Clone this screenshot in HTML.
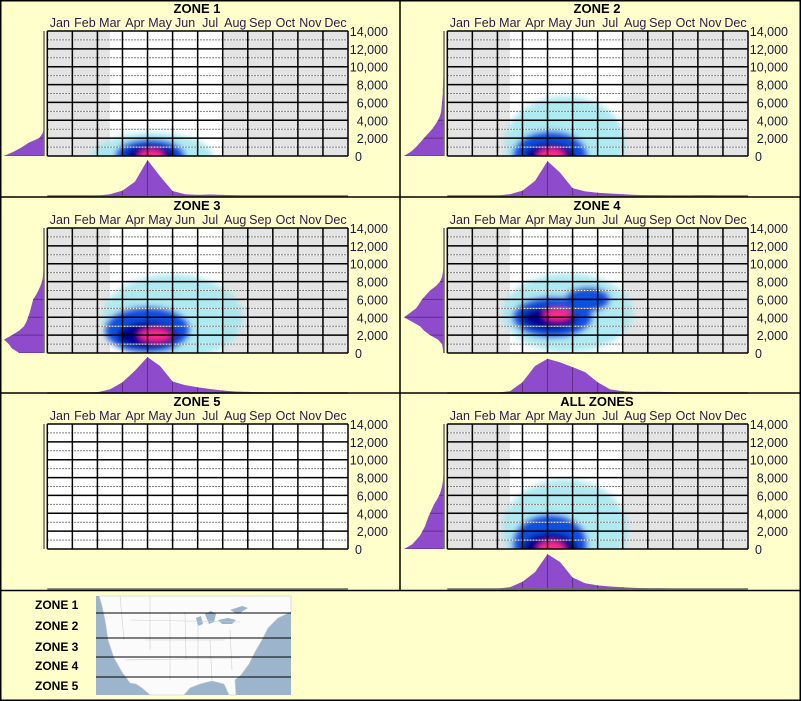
<!DOCTYPE html>
<html><head><meta charset="utf-8">
<style>
html,body{margin:0;padding:0;background:#ffffcc;}
svg{display:block;font-family:"Liberation Sans",sans-serif;}
</style></head>
<body>
<svg id="chart" width="801" height="701" viewBox="0 0 801 701" xmlns="http://www.w3.org/2000/svg">
<defs>
<filter id="blur" x="-50%" y="-50%" width="200%" height="200%"><feGaussianBlur stdDeviation="3"/></filter>
</defs>
<rect x="0" y="0" width="801" height="701" fill="#ffffcc"/>
<g id="panels"></g>
<g>
<text x="35" y="609" font-size="12" font-weight="bold">ZONE 1</text>
<text x="35" y="630" font-size="12" font-weight="bold">ZONE 2</text>
<text x="35" y="651" font-size="12" font-weight="bold">ZONE 3</text>
<text x="35" y="670" font-size="12" font-weight="bold">ZONE 4</text>
<text x="35" y="690" font-size="12" font-weight="bold">ZONE 5</text>
<g>
<rect x="96" y="596" width="195" height="99" fill="#9db5cc"/>
<polygon fill="#fbfbfb" stroke="#c8c8c8" stroke-width="0.6" points="99,596 291,596 291,612 278,618 268,628 262,640 255,652 249,664 241,675 235,680 236,695 229,695 224,684 212,681 200,684 190,688 184,695 150,695 142,688 136,684 130,683 122,672 114,658 108,640 105,620 102,606"/>
<path d="M205,614 l6,-3 l5,3 l-2,8 l-5,2 z M218,620 l10,-2 l8,2 l-4,4 l-10,0 z M196,618 l5,-2 l2,8 l-5,2z M230,610 l12,-4 l6,2 l-10,6z" fill="#9db5cc"/>
<path d="M120,596 L124,640 M150,596 L150,650 M170,612 L170,680 M185,612 L186,660 M198,625 L198,680 M145,640 L225,640 M130,620 L240,622 M125,660 L240,658 M210,640 L212,680 M230,630 L232,670" stroke="#d0d0d0" stroke-width="0.6" fill="none"/>
<line x1="96" y1="613" x2="291" y2="613" stroke="#000" stroke-width="1"/>
<line x1="96" y1="638" x2="291" y2="638" stroke="#000" stroke-width="1"/>
<line x1="96" y1="657" x2="291" y2="657" stroke="#000" stroke-width="1"/>
<line x1="96" y1="677" x2="291" y2="677" stroke="#000" stroke-width="1"/>
</g>
</g>
<g>
<line x1="400" y1="0" x2="400" y2="590" stroke="#000" stroke-width="1.5"/>
<line x1="0" y1="197" x2="801" y2="197" stroke="#000" stroke-width="1.5"/>
<line x1="0" y1="393" x2="801" y2="393" stroke="#000" stroke-width="1.5"/>
<line x1="0" y1="590.5" x2="801" y2="590.5" stroke="#000" stroke-width="1.5"/>
<rect x="0.75" y="0.75" width="799.5" height="699.5" fill="none" stroke="#000" stroke-width="1.5"/>
</g>
</svg>
<script>
const months = ["Jan","Feb","Mar","Apr","May","Jun","Jul","Aug","Sep","Oct","Nov","Dec"];
const yTicks = [0,2000,4000,6000,8000,10000,12000,14000];
const yTickLabels = ["0","2,000","4,000","6,000","8,000","10,000","12,000","14,000"];
const zoneTitles = ["ZONE 1","ZONE 2","ZONE 3","ZONE 4","ZONE 5","ALL ZONES"];
// seasonal density, at month positions 0,0.5,...,12 (25 points)
const seasonZone1 = [0,0,0,0,0.01,0.05,0.15,0.4,1.0,0.55,0.14,0.05,0.03,0.04,0.03,0.02,0.01,0.01,0,0,0,0,0,0,0];
const seasonZone2 = [0,0,0,0,0.01,0.05,0.15,0.42,0.97,0.65,0.22,0.13,0.09,0.07,0.05,0.03,0.02,0.02,0.01,0.01,0.02,0.02,0.01,0,0];
const seasonZone3 = [0,0,0,0.01,0.02,0.1,0.3,0.62,1.0,0.75,0.32,0.22,0.16,0.11,0.07,0.04,0.03,0.02,0.01,0.01,0.02,0.01,0,0,0];
const seasonZone4 = [0,0,0,0,0.01,0.05,0.3,0.75,0.95,0.85,0.72,0.58,0.3,0.1,0.05,0.03,0.03,0.03,0.02,0.01,0,0,0,0,0];
const seasonZone5 = [0,0,0,0,0,0,0,0,0,0,0,0,0,0,0,0,0,0,0,0,0,0,0,0,0];
const seasonAll = [0,0,0,0,0.01,0.05,0.2,0.47,0.97,0.75,0.32,0.16,0.1,0.07,0.05,0.03,0.02,0.02,0.01,0.01,0.01,0.01,0,0,0];
// altitude density, at 0,500,...,14000 ft (29 points)
const altZone1 = [1.0,0.75,0.55,0.38,0.12,0.04,0.01,0,0,0,0,0,0,0,0,0,0,0,0,0,0,0,0,0,0,0,0,0,0];
const altZone2 = [1.0,0.82,0.7,0.6,0.5,0.4,0.3,0.22,0.15,0.1,0.07,0.06,0.05,0.04,0.03,0.03,0.02,0.02,0.01,0.01,0.01,0.01,0.01,0,0,0,0,0,0];
const altZone3 = [0.62,0.8,0.88,1.0,0.8,0.62,0.5,0.44,0.4,0.36,0.33,0.3,0.27,0.2,0.14,0.09,0.05,0.03,0.02,0.01,0,0,0,0,0,0,0,0,0];
const altZone4 = [0.02,0.03,0.05,0.15,0.35,0.5,0.6,0.8,1.0,0.85,0.7,0.62,0.55,0.45,0.35,0.2,0.1,0.05,0.03,0.01,0,0,0,0,0,0,0,0,0];
const altZone5 = [0,0,0,0,0,0,0,0,0,0,0,0,0,0,0,0,0,0,0,0,0,0,0,0,0,0,0,0,0];
const altAll = [1.0,0.8,0.7,0.6,0.54,0.48,0.44,0.4,0.35,0.3,0.25,0.18,0.12,0.08,0.05,0.03,0.02,0.01,0,0,0,0,0,0,0,0,0,0,0];
// heat blobs: month position, altitude ft, x-radius months, y-radius ft, level (0 cyan,1 blue,2 navy,3 magenta)
const heatZone1 = [[4.2,0,2.4,2600,0],[4.1,0,1.4,1900,1],[4.1,0,1.0,1300,2],[4.15,0,0.5,700,3]];
const heatZone2 = [[4.7,1500,2.4,5200,0],[4.1,0,1.5,2800,1],[4.1,0,1.0,1500,2],[4.15,0,0.55,800,3]];
const heatZone3 = [[5.0,4000,2.8,4800,0],[4.0,2600,1.7,2600,1],[4.0,2000,1.2,1500,2],[4.3,2000,0.65,700,3]];
const heatZone4 = [[4.8,4500,2.6,4400,0],[4.2,4000,1.6,2300,1],[5.6,6000,0.9,1400,1],[4.1,3900,1.1,1300,2],[4.4,4300,0.55,650,3]];
const heatZone5 = [];
const heatAll = [[4.7,2200,2.5,5600,0],[4.1,500,1.5,3400,1],[4.1,0,1.1,1800,2],[4.15,0,0.55,850,3]];

const seasons=[seasonZone1,seasonZone2,seasonZone3,seasonZone4,seasonZone5,seasonAll];
const alts=[altZone1,altZone2,altZone3,altZone4,altZone5,altAll];
const heats=[heatZone1,heatZone2,heatZone3,heatZone4,heatZone5,heatAll];
const origins=[[0,0],[400,0],[0,197],[400,197],[0,393],[400,393]];
const levelColors=["#a0e6ee","#0a50e0","#000090","#ff2a8a"];
const NS="http://www.w3.org/2000/svg";
function mk(tag,attrs,parent){const e=document.createElementNS(NS,tag);for(const k in attrs)e.setAttribute(k,attrs[k]);parent.appendChild(e);return e;}
const root=document.getElementById('panels');
const PX0=47.3,PX1=348,PY0=31,PY1=156;
function xS(m){return PX0+m*(PX1-PX0)/12;}
function yS(ft){return PY1-ft/14000*(PY1-PY0);}
origins.forEach((o,i)=>{
  const g=mk('g',{transform:`translate(${o[0]},${o[1]})`},root);
  
  
  const t=mk('text',{x:197,y:13,'font-size':13,'font-weight':'bold','text-anchor':'middle',fill:'#000'},g);
  t.textContent=zoneTitles[i];
  
  
  months.forEach((m,j)=>{
    const l=mk('text',{x:xS(j+0.5),y:27,'font-size':12.5,'text-anchor':'middle',fill:'#301848'},g);
    l.textContent=m;
    
    
  });
  yTicks.forEach((v,j)=>{
    const isZero=(v===0);
    const l=mk('text',{x:isZero?355:388,y:yS(v)+5,'font-size':12.5,'text-anchor':isZero?'start':'end',fill:'#1a1a40'},g);
    l.textContent=yTickLabels[j];
    
    
  });
  const bg=mk('rect',{x:PX0,y:PY0,width:PX1-PX0,height:PY1-PY0,fill:i===4?'#fff':'#e4e4e4'},g);
  
  
  if(i!==4){
    const w=mk('rect',{x:xS(2.5),y:PY0,width:xS(7)-xS(2.5),height:PY1-PY0,fill:'#fff'},g);
    
    
  }
  const cid='clip'+i;
  const cp=mk('clipPath',{id:cid},g);mk('rect',{x:PX0,y:PY0,width:PX1-PX0,height:PY1-PY0},cp);
  const hg=mk('g',{'clip-path':`url(#${cid})`},g);
  const hb=mk('g',{filter:'url(#blur)'},hg);
  heats[i].forEach(b=>{
    const e=mk('ellipse',{cx:xS(b[0]),cy:yS(b[1]),rx:xS(b[2])-xS(0),ry:yS(0)-yS(b[3]),fill:levelColors[b[4]],opacity:b[4]===0?0.85:1},hb);
    
    
  });
  const gr=mk('g',{},g);
  
  
  for(let k=0;k<7;k++){
    const yy=(yS(k*2000)+yS(k*2000+2000))/2;
    mk('line',{x1:PX0,x2:PX1,y1:yy,y2:yy,stroke:'#fff','stroke-width':1},gr);
    mk('line',{x1:PX0,x2:PX1,y1:yy,y2:yy,stroke:'#555','stroke-width':1,'stroke-dasharray':'1.5 1.5'},gr);
  }
  yTicks.forEach(v=>mk('line',{x1:PX0,x2:PX1,y1:yS(v),y2:yS(v),stroke:'#000','stroke-width':1.5},gr));
  for(let j=0;j<=12;j++)mk('line',{x1:xS(j),x2:xS(j),y1:PY0,y2:PY1,stroke:'#000','stroke-width':1.5},gr);
  const base=196,sc=36;
  let d=`M${xS(0)},${base}`;
  seasons[i].forEach((v,k)=>{d+=` L${xS(k*0.5)},${base-v*sc}`;});
  d+=` L${xS(12)},${base} Z`;
  const bp=mk('path',{d:d,fill:'#8e4ccc'},g);
  
  
  const bcid='bclip'+i;
  const bc=mk('clipPath',{id:bcid},g);mk('path',{d:d},bc);
  const vl=mk('g',{'clip-path':`url(#${bcid})`},g);
  for(let j=1;j<12;j++)mk('line',{x1:xS(j),x2:xS(j),y1:150,y2:base,stroke:'#603080','stroke-width':1},vl);
  mk('line',{x1:xS(0),x2:xS(12),y1:base,y2:base,stroke:'#6e6e60','stroke-width':1.5},g);
  const ax=44,ws=40;
  let d2=`M${ax},${yS(0)}`;
  alts[i].forEach((v,k)=>{d2+=` L${ax-v*ws},${yS(k*500)}`;});
  d2+=` L${ax},${yS(14000)} Z`;
  const lp=mk('path',{d:d2,fill:'#8e4ccc'},g);
  
  
  const lcid='lclip'+i;
  const lc=mk('clipPath',{id:lcid},g);mk('path',{d:d2},lc);
  const hl=mk('g',{'clip-path':`url(#${lcid})`},g);
  yTicks.forEach(v=>mk('line',{x1:0,x2:ax,y1:yS(v),y2:yS(v),stroke:'#603080','stroke-width':1},hl));
  mk('line',{x1:ax,x2:ax,y1:PY0,y2:PY1,stroke:'#6e6e60','stroke-width':1.5},g);
});
</script>
</body></html>
